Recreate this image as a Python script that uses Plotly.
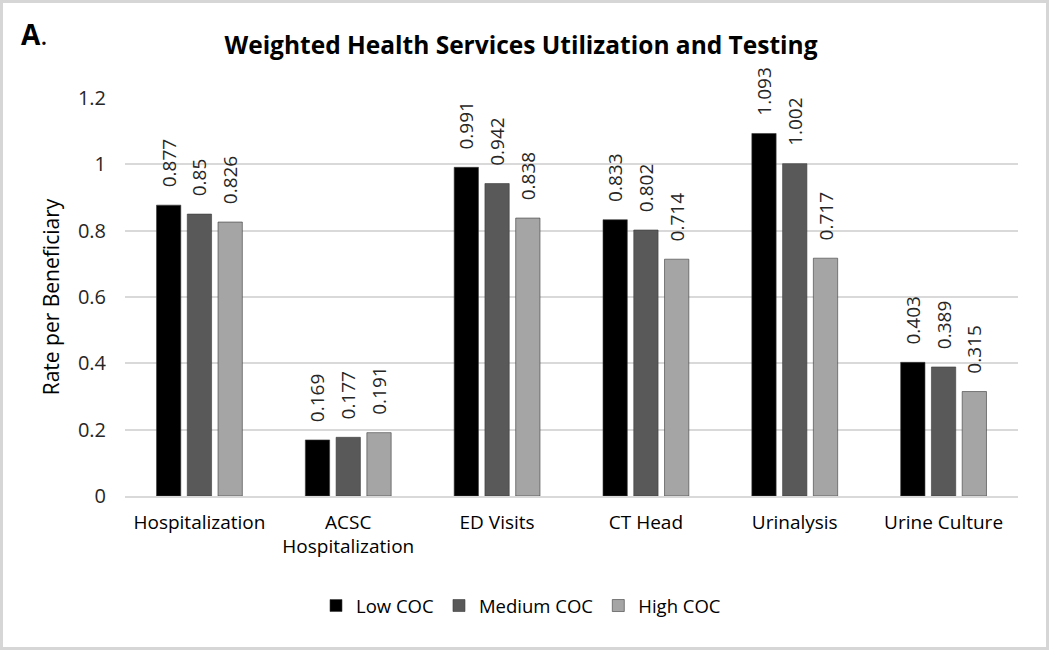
"""Weighted health services utilization and testing by continuity of care."""
import plotly.graph_objects as go

categories = ["Hospitalization", "ACSC<br>Hospitalization", "ED Visits",
              "CT Head", "Urinalysis", "Urine Culture"]
low_coc = [0.877, 0.169, 0.991, 0.833, 1.093, 0.403]
medium_coc = [0.85, 0.177, 0.942, 0.802, 1.002, 0.389]
high_coc = [0.826, 0.191, 0.838, 0.714, 0.717, 0.315]

series = [
    ("Low COC", low_coc, "#000000"),
    ("Medium COC", medium_coc, "#595959"),
    ("High COC", high_coc, "#a5a5a5"),
]

FONT = "Open Sans, Lato, sans-serif"
W, H = 1050, 651
ML, MR, MT, MB = 125, 32, 98, 155
pw, ph = W - ML - MR, H - MT - MB
PAD = "\u00a0" * 3  # gap between bar top and its rotated label


def px_x(px):
    return (px - ML) / pw


def px_y(py):
    return (H - MB - py) / ph


fig = go.Figure()
for name, vals, color in series:
    fig.add_trace(go.Bar(
        name=name, x=categories, y=vals,
        marker=dict(color=color, line=dict(color="#3a3a3a", width=0.6)),
        text=[f"{PAD}{v:g}" for v in vals],
        textposition="outside", textangle=-90, constraintext="none",
        textfont=dict(size=19, color="#262626", family=FONT),
        cliponaxis=False,
    ))

# light gray frame around the whole picture
fig.add_shape(
    type="rect", xref="paper", yref="paper",
    x0=px_x(1.5), x1=px_x(W - 2.5), y0=px_y(H - 2.5), y1=px_y(1.5),
    line=dict(color="#d6d6d6", width=3), layer="below",
)

fig.add_annotation(
    text="<b>A</b>.", xref="paper", yref="paper",
    x=px_x(19), y=px_y(34), xanchor="left", yanchor="middle",
    showarrow=False, font=dict(size=28, color="#000000", family=FONT),
)

fig.update_layout(
    width=W, height=H,
    margin=dict(l=ML, r=MR, t=MT, b=MB),
    paper_bgcolor="white", plot_bgcolor="white",
    title=dict(text="<b>Weighted Health Services Utilization and Testing</b>",
               x=521 / W, xanchor="center", y=1 - 45 / H, yanchor="middle",
               font=dict(size=24.5, color="#000000", family=FONT)),
    barmode="group", bargap=0.38, bargroupgap=0.21,
    font=dict(family=FONT, color="#262626"),
    legend=dict(orientation="h", x=px_x(521), xanchor="center", y=px_y(606), yanchor="middle",
                font=dict(size=18.5, color="#000000"), traceorder="normal"),
    xaxis=dict(tickfont=dict(size=19, color="#000000"), showline=True,
               linecolor="#d9d9d9", linewidth=1.5, ticks="", ticklabelstandoff=8),
    yaxis=dict(range=[0, 1.2], dtick=0.2, tickformat="~g",
               gridcolor="#d9d9d9", gridwidth=1.5, zeroline=False,
               tickfont=dict(size=20, color="#262626"), ticklabelstandoff=18,
               title=dict(text="Rate per Beneficiary", standoff=12,
                          font=dict(size=21, color="#000000"))),
)

fig.write_html("out.html", config={"displayModeBar": False},
               post_script="document.body.style.margin='0';")
